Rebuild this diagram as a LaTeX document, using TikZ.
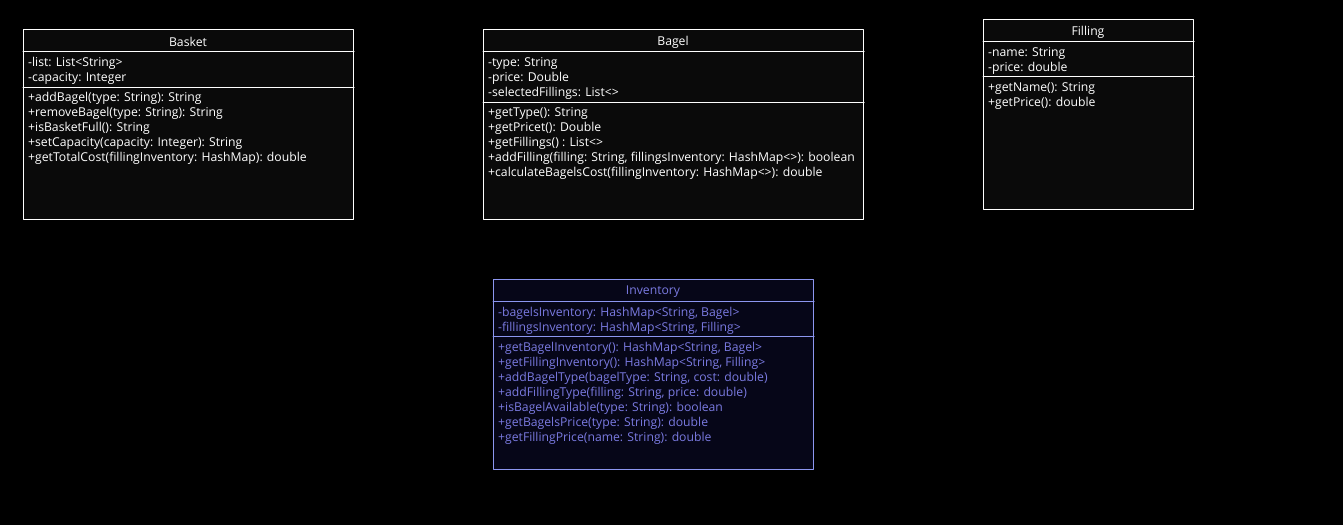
\documentclass[tikz,border=0pt]{standalone}
\usepackage{fontspec}
\setmainfont{Open Sans}
\usepackage{tikz}

\definecolor{boxfill}{RGB}{10,10,10}
\definecolor{invline}{RGB}{140,150,240}
\definecolor{invfill}{RGB}{6,6,24}
\definecolor{invtext}{RGB}{122,122,225}

\begin{document}
\begin{tikzpicture}[line cap=round,line join=round,x=1pt,y=-1pt,
  classbox/.style={rectangle, draw=white, fill=boxfill, line width=1pt, anchor=north west, inner sep=0pt},
  title/.style={text=white, font=\fontsize{12.2}{14}\selectfont, inner sep=0pt},
  member/.style={text=white, font=\fontsize{12.2}{14}\selectfont, anchor=base west, inner sep=0pt},
  sep/.style={draw=white, line width=1pt},
  inv/.style={draw=invline, fill=invfill, text=invtext}]
  \useasboundingbox[fill=black] (0,0) rectangle (1343,525);

  % Basket
  \node[classbox, minimum width=330pt, minimum height=190pt] (basket) at (23,29) {};
  \node[title] (basket-t) at (188,42) {Basket};
  \draw[sep] ([yshift=-22pt]basket.north west) -- ([yshift=-22pt]basket.north east);
  \foreach \t [count=\i] in {{-list: List<String>}, {-capacity: Integer}}
    \node[member] (basket-a\i) at (28,51.5+15*\i) {\t};
  \draw[sep] ([yshift=-58pt]basket.north west) -- ([yshift=-58pt]basket.north east);
  \foreach \t [count=\i] in {{+addBagel(type: String): String}, {+removeBagel(type: String): String},
      {+isBasketFull(): String}, {+setCapacity(capacity: Integer): String},
      {+getTotalCost(fillingInventory: HashMap): double}}
    \node[member] (basket-m\i) at (28,86.5+15*\i) {\t};

  % Bagel
  \node[classbox, minimum width=380pt, minimum height=190pt] (bagel) at (483,29) {};
  \node[title] (bagel-t) at (673,42) {Bagel};
  \draw[sep] ([yshift=-22pt]bagel.north west) -- ([yshift=-22pt]bagel.north east);
  \foreach \t [count=\i] in {{-type: String}, {-price: Double}, {-selectedFillings: List<>}}
    \node[member] (bagel-a\i) at (488,51.5+15*\i) {\t};
  \draw[sep] ([yshift=-73pt]bagel.north west) -- ([yshift=-73pt]bagel.north east);
  \foreach \t [count=\i] in {{+getType(): String}, {+getPricet(): Double}, {+getFillings() : List<>},
      {+addFilling(filling: String, fillingsInventory: HashMap<>): boolean},
      {+calculateBagelsCost(fillingInventory: HashMap<>): double}}
    \node[member] (bagel-m\i) at (488,101.5+15*\i) {\t};

  % Filling
  \node[classbox, minimum width=210pt, minimum height=190pt] (filling) at (983,19) {};
  \node[title] (filling-t) at (1088,32) {Filling};
  \draw[sep] ([yshift=-22pt]filling.north west) -- ([yshift=-22pt]filling.north east);
  \foreach \t [count=\i] in {{-name: String}, {-price: double}}
    \node[member] (filling-a\i) at (988,41.5+15*\i) {\t};
  \draw[sep] ([yshift=-57pt]filling.north west) -- ([yshift=-57pt]filling.north east);
  \foreach \t [count=\i] in {{+getName(): String}, {+getPrice(): double}}
    \node[member] (filling-m\i) at (988,76.5+15*\i) {\t};

  % Inventory
  \node[classbox, inv, minimum width=320pt, minimum height=190pt] (inventory) at (493,279) {};
  \node[title, text=invtext] (inventory-t) at (653,292) {Inventory};
  \draw[sep, draw=invline] ([yshift=-22pt]inventory.north west) -- ([yshift=-22pt]inventory.north east);
  \foreach \t [count=\i] in {{-bagelsInventory: HashMap<String, Bagel>}, {-fillingsInventory: HashMap<String, Filling>}}
    \node[member, text=invtext] (inventory-a\i) at (498,301.5+15*\i) {\t};
  \draw[sep, draw=invline] ([yshift=-57pt]inventory.north west) -- ([yshift=-57pt]inventory.north east);
  \foreach \t [count=\i] in {{+getBagelInventory(): HashMap<String, Bagel>}, {+getFillingInventory(): HashMap<String, Filling>},
      {+addBagelType(bagelType: String, cost: double)}, {+addFillingType(filling: String, price: double)},
      {+isBagelAvailable(type: String): boolean}, {+getBagelsPrice(type: String): double},
      {+getFillingPrice(name: String): double}}
    \node[member, text=invtext] (inventory-m\i) at (498,336.5+15*\i) {\t};
\end{tikzpicture}
\end{document}
